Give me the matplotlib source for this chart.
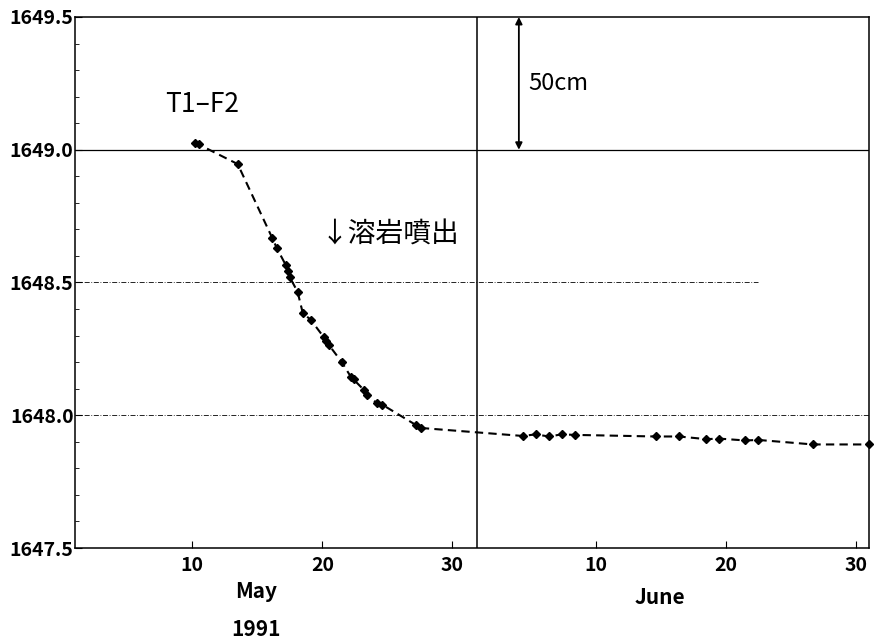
import matplotlib.pyplot as plt
from matplotlib.ticker import MultipleLocator

plt.rcParams['font.family'] = ['Noto Sans CJK JP', 'DejaVu Sans']

# day number: May d -> d, June d -> 31 + d
days = [10.2, 10.5, 13.5, 16.15, 16.5, 17.2, 17.35, 17.5, 18.1, 18.5, 19.1,
        20.1, 20.3, 20.5, 21.5, 22.2, 22.4, 23.2, 23.4, 24.2, 24.6, 27.2, 27.6,
        35.4, 36.4, 37.4, 38.4, 39.4, 45.6, 47.4, 49.5, 50.5, 52.5, 53.5, 57.7, 62.0]
height = [1649.025, 1649.02, 1648.946, 1648.668, 1648.63, 1648.565, 1648.545, 1648.52,
          1648.465, 1648.385, 1648.36, 1648.295, 1648.28, 1648.265, 1648.2, 1648.144,
          1648.135, 1648.095, 1648.075, 1648.046, 1648.04, 1647.963, 1647.952,
          1647.922, 1647.928, 1647.92, 1647.928, 1647.926, 1647.92, 1647.92, 1647.91,
          1647.912, 1647.905, 1647.907, 1647.89, 1647.89]

tick_days = [10, 20, 30, 41, 51, 61]
tick_labels = ['10', '20', '30', '10', '20', '30']

fig = plt.figure(figsize=(8.74, 6.4), dpi=100)
ax = fig.add_axes([0.0858, 0.14375, 0.9085, 0.8297])

# grid lines
ax.axhline(1649.0, color='black', lw=0.9)
ax.axhline(1648.5, color='black', lw=0.6, ls=(0, (6, 2, 1, 2)), xmax=0.86)
ax.axhline(1648.0, color='black', lw=0.6, ls=(0, (6, 2, 1, 2)))
ax.axvline(31.85, color='black', lw=1.1)

ax.plot(days, height, ls=(0, (4, 2.5)), color='black', lw=1.5, marker='D', ms=4.5,
        markeredgecolor='black', markerfacecolor='black', clip_on=False)

# 50cm scale
ax.annotate('', xy=(35.1, 1649.5), xytext=(35.1, 1649.0),
            arrowprops=dict(arrowstyle='<|-|>', color='black', lw=1.3,
                            shrinkA=0, shrinkB=0, mutation_scale=10))
ax.text(35.8, 1649.25, '50cm', fontsize=17, va='center', ha='left')

ax.text(7.9, 1649.17, 'T1–F2', fontsize=19, va='center', ha='left')
ax.text(19.85, 1648.68, '↓溶岩噴出', fontsize=20, va='center', ha='left')

ax.set_xlim(1, 62)
ax.set_ylim(1647.5, 1649.5)
ax.set_xticks(tick_days)
ax.set_xticklabels(tick_labels, fontsize=14, fontweight='bold')
ax.set_yticks([1647.5, 1648.0, 1648.5, 1649.0, 1649.5])
ax.set_yticklabels(['1647.5', '1648.0', '1648.5', '1649.0', '1649.5'],
                   fontsize=14, fontweight='bold')
ax.yaxis.set_minor_locator(MultipleLocator(0.1))
ax.tick_params(direction='in', length=5, width=0.8, pad=6)
ax.tick_params(axis='y', which='minor', direction='in', length=3)
ax.tick_params(axis='y', pad=1)

for s in ax.spines.values():
    s.set_linewidth(1.1)

fig.text(256 / 874, 1 - 592 / 640, 'May', fontsize=15, fontweight='bold', ha='center', va='center')
fig.text(256 / 874, 1 - 630 / 640, '1991', fontsize=15, fontweight='bold', ha='center', va='center')
fig.text(660 / 874, 1 - 597 / 640, 'June', fontsize=15, fontweight='bold', ha='center', va='center')

fig.savefig('out.png', dpi=100)
